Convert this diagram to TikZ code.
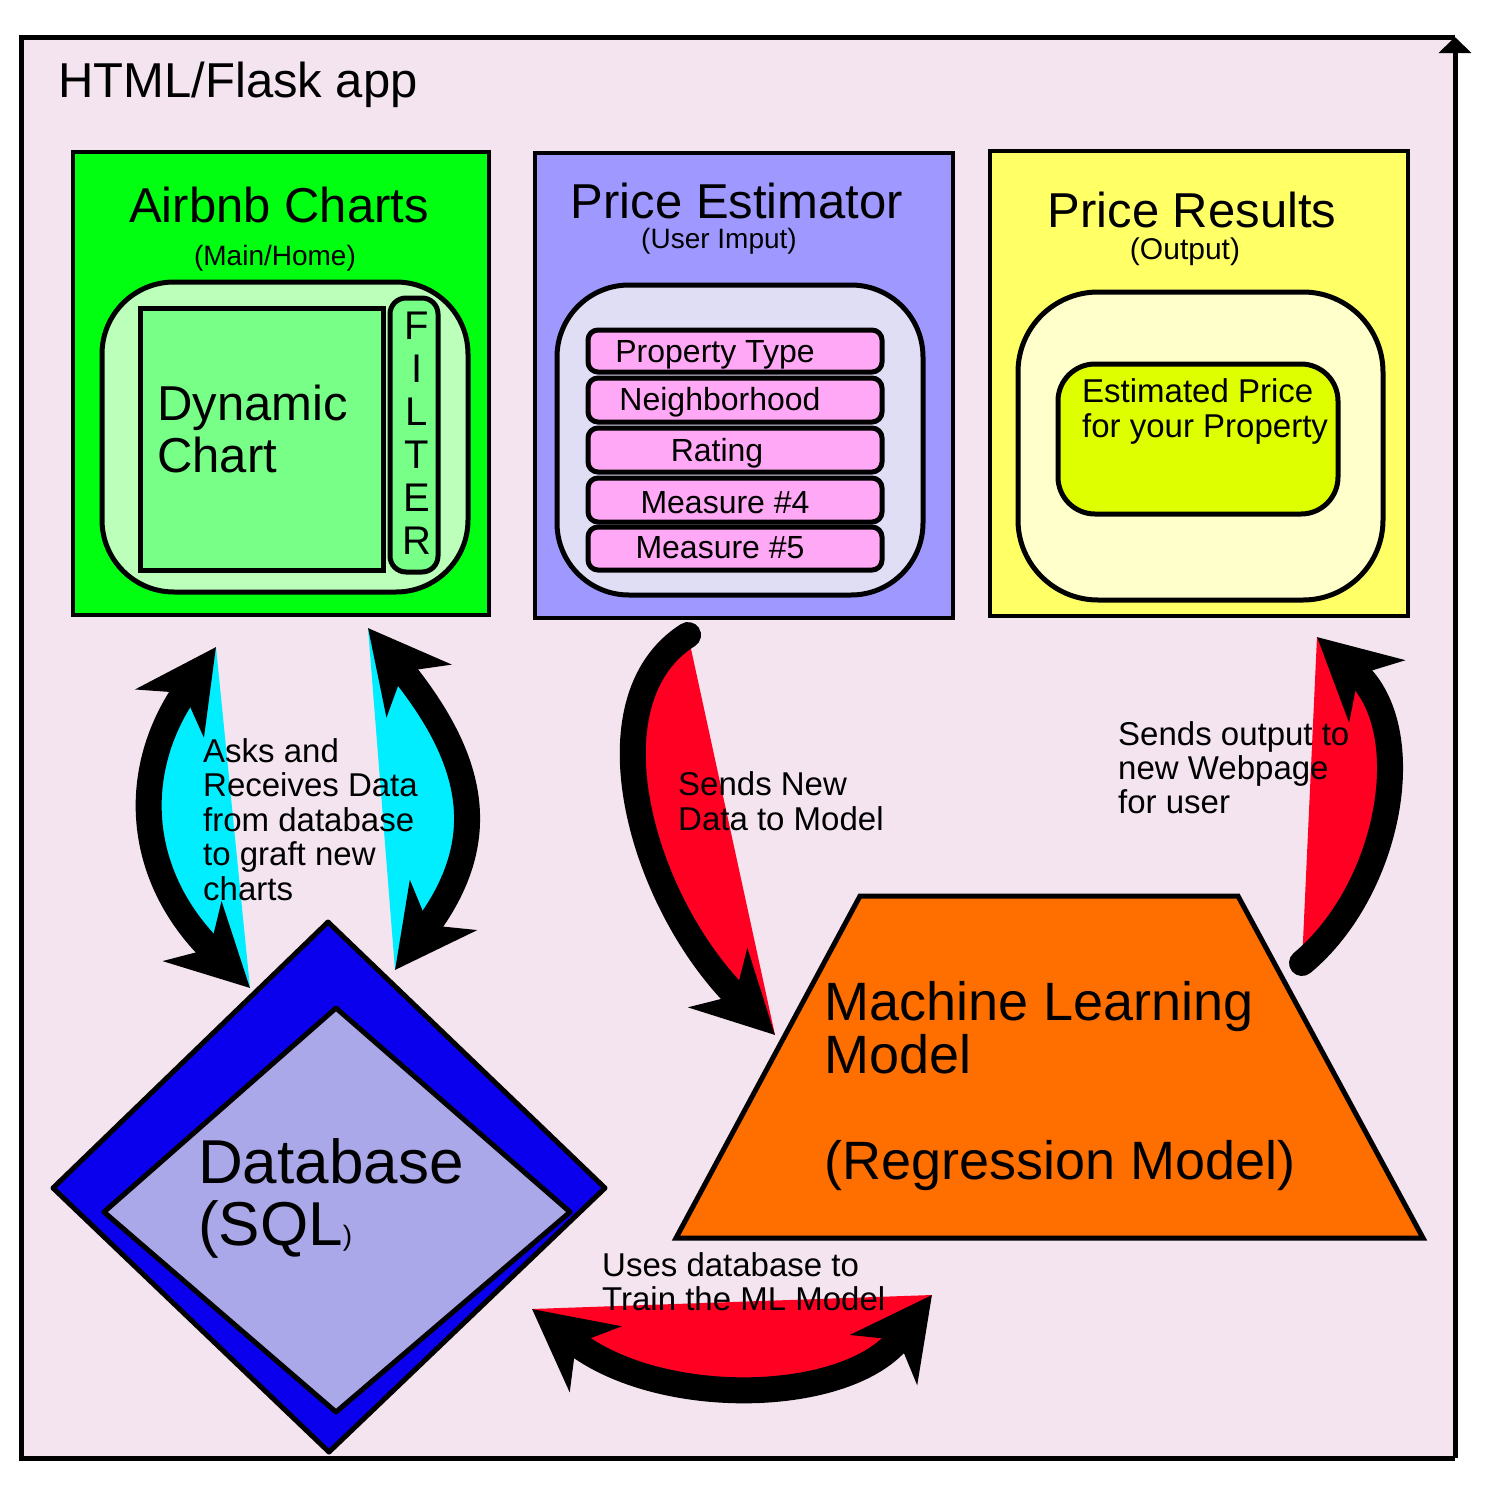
\documentclass[tikz,border=0pt]{standalone}
\usepackage{fontspec}
\setmainfont{Liberation Sans}
\usetikzlibrary{arrows.meta}
\definecolor{appbg}{HTML}{F3E4EF}
\definecolor{chartgreen}{HTML}{00FF11}
\definecolor{chartpale}{HTML}{BBFFBB}
\definecolor{chartmid}{HTML}{77FF88}
\definecolor{estpurple}{HTML}{9F99FF}
\definecolor{estpale}{HTML}{E0DEF4}
\definecolor{fieldpink}{HTML}{FFA8F5}
\definecolor{resyellow}{HTML}{FFFF66}
\definecolor{respale}{HTML}{FFFFCC}
\definecolor{reslime}{HTML}{DDFF00}
\definecolor{dbblue}{HTML}{0A00EE}
\definecolor{dbpale}{HTML}{AAA8E8}
\definecolor{mlorange}{HTML}{FF6F00}
\definecolor{flowred}{HTML}{FF0022}
\definecolor{flowcyan}{HTML}{00EEFF}
\newcommand\pxfont[2]{\fontsize{#1}{#2}\selectfont}
\begin{document}
\begin{tikzpicture}[x=1pt,y=-1pt,
  frame/.style={line width=5pt},
  panel/.style={draw,line width=3.5pt},
  inset/.style={draw,line width=5pt},
  flow/.style={line width=26pt,line cap=round},
  label/.style={inner sep=0pt,anchor=base west,align=left},
  >={Stealth[length=80pt,width=82pt,inset=24pt]}]
\useasboundingbox (0,0) rectangle (1500,1500);
% app frame
\fill[appbg] (21,37) rectangle (1455,1458);
\draw[frame] (1455,1458) -- (21,1458) -- (21,37) -- (1455,37);
\draw[frame,-{Triangle[length=16pt,width=32pt]}] (1455,1458) -- (1455,37);
\node[label,font=\pxfont{49}{56}] (app) at (58,97) {HTML/Flask app};
% airbnb charts
\draw[panel,fill=chartgreen] (73,152) rectangle (489,615);
\draw[inset,fill=chartpale,rounded corners=72pt] (102,282) rectangle (468,592);
\draw[inset,fill=chartmid] (140,308) rectangle (383,570);
\draw[inset,fill=chartmid,rounded corners=16pt] (390,298) rectangle (438,572);
\node[inner sep=0pt,anchor=base,font=\pxfont{49}{56}] (charts) at (279,222) {Airbnb Charts};
\node[inner sep=0pt,anchor=base,font=\pxfont{28}{32}] (home) at (275,265) {(Main/Home)};
\node[label,font=\pxfont{49}{52}] (dyn) at (157,472) {Dynamic\\Chart};
\node[inner sep=0pt,anchor=base,align=center,font=\pxfont{40}{43}] (filter) at (417,554) {F\\I\\L\\T\\E\\R};
% price estimator
\draw[panel,fill=estpurple] (535,153) rectangle (953,618);
\draw[inset,fill=estpale,rounded corners=72pt] (557,285) rectangle (923,595);
\draw[inset,fill=fieldpink,rounded corners=10pt] (588,330) rectangle (882,372);
\draw[inset,fill=fieldpink,rounded corners=10pt] (588,378) rectangle (882,422);
\draw[inset,fill=fieldpink,rounded corners=10pt] (588,428) rectangle (882,472);
\draw[inset,fill=fieldpink,rounded corners=10pt] (588,478) rectangle (882,522);
\draw[inset,fill=fieldpink,rounded corners=10pt] (588,527) rectangle (882,570);
\node[inner sep=0pt,anchor=base,font=\pxfont{49}{56}] (est) at (737,218) {Price Estimator};
\node[inner sep=0pt,anchor=base,font=\pxfont{28}{32}] (input) at (719,248) {(User Imput)};
\node[inner sep=0pt,anchor=base,font=\pxfont{32}{36}] (ptype) at (715,362) {Property Type};
\node[inner sep=0pt,anchor=base,font=\pxfont{32}{36}] (hood) at (720,410) {Neighborhood};
\node[inner sep=0pt,anchor=base,font=\pxfont{32}{36}] (rating) at (717,461) {Rating};
\node[inner sep=0pt,anchor=base,font=\pxfont{32}{36}] (meas4) at (725,513) {Measure \#4};
\node[inner sep=0pt,anchor=base,font=\pxfont{32}{36}] (meas5) at (720,558) {Measure \#5};
% price results
\draw[panel,fill=resyellow] (990,151) rectangle (1408,616);
\draw[inset,fill=respale,rounded corners=80pt] (1018,292) rectangle (1383,600);
\draw[inset,fill=reslime,rounded corners=37pt] (1058,364) rectangle (1338,514);
\node[inner sep=0pt,anchor=base,font=\pxfont{49}{56}] (res) at (1192,227) {Price Results};
\node[inner sep=0pt,anchor=base,font=\pxfont{30}{36}] (out) at (1185,259) {(Output)};
\node[label,font=\pxfont{33}{35}] (price) at (1082,437) {Estimated Price\\for your Property};
% arrow ends
\coordinate (a1) at (216,647); \coordinate (a2) at (250,988);
\coordinate (b1) at (368,628); \coordinate (b2) at (395,970);
\coordinate (c1) at (688,635); \coordinate (c2) at (775,1035);
\coordinate (d1) at (1302,963); \coordinate (d2) at (1317,637);
\coordinate (e1) at (532,1309); \coordinate (e2) at (932,1295);
\fill[flowcyan] (a1) .. controls (130,770) and (135,875) .. (a2) -- cycle;
\draw[flow,<->] (a1) .. controls (130,770) and (135,875) .. (a2);
\fill[flowcyan] (b1) .. controls (475,760) and (492,840) .. (b2) -- cycle;
\draw[flow,<->] (b1) .. controls (475,760) and (492,840) .. (b2);
\fill[flowred] (c1) .. controls (585,700) and (640,900) .. (c2) -- cycle;
\draw[flow,->] (c1) .. controls (585,700) and (640,900) .. (c2);
\fill[flowred] (d1) .. controls (1390,890) and (1420,730) .. (d2) -- cycle;
\draw[flow,->] (d1) .. controls (1390,890) and (1420,730) .. (d2);
\fill[flowred] (e1) .. controls (660,1410) and (850,1405) .. (e2) -- cycle;
\draw[flow,<->] (e1) .. controls (660,1410) and (850,1405) .. (e2);
% database
\draw[inset,fill=dbblue,line join=round] (328,922) -- (605,1188) -- (329,1452) -- (53,1188) -- cycle;
\draw[inset,fill=dbpale,line join=round] (336,1008) -- (570,1212) -- (336,1412) -- (104,1212) -- cycle;
\node[label,font=\pxfont{62}{62}] (db) at (198,1245) {Database\\(SQL{\pxfont{28}{28})}};
% model
\draw[inset,fill=mlorange] (860,896) -- (1238,896) -- (1423,1238) -- (676,1238) -- cycle;
\node[label,font=\pxfont{54}{53}] (ml) at (824,1179) {Machine Learning\\Model\\[53pt](Regression Model)};
% flow labels
\node[label,font=\pxfont{33}{34.5}] (ask) at (203,900) {Asks and\\Receives Data\\from database\\to graft new\\charts};
\node[label,font=\pxfont{33}{35}] (send) at (678,830) {Sends New\\Data to Model};
\node[label,font=\pxfont{33}{34}] (show) at (1118,813) {Sends output to\\new Webpage\\for user};
\node[label,font=\pxfont{33}{34}] (train) at (602,1310) {Uses database to\\Train the ML Model};
\end{tikzpicture}
\end{document}
